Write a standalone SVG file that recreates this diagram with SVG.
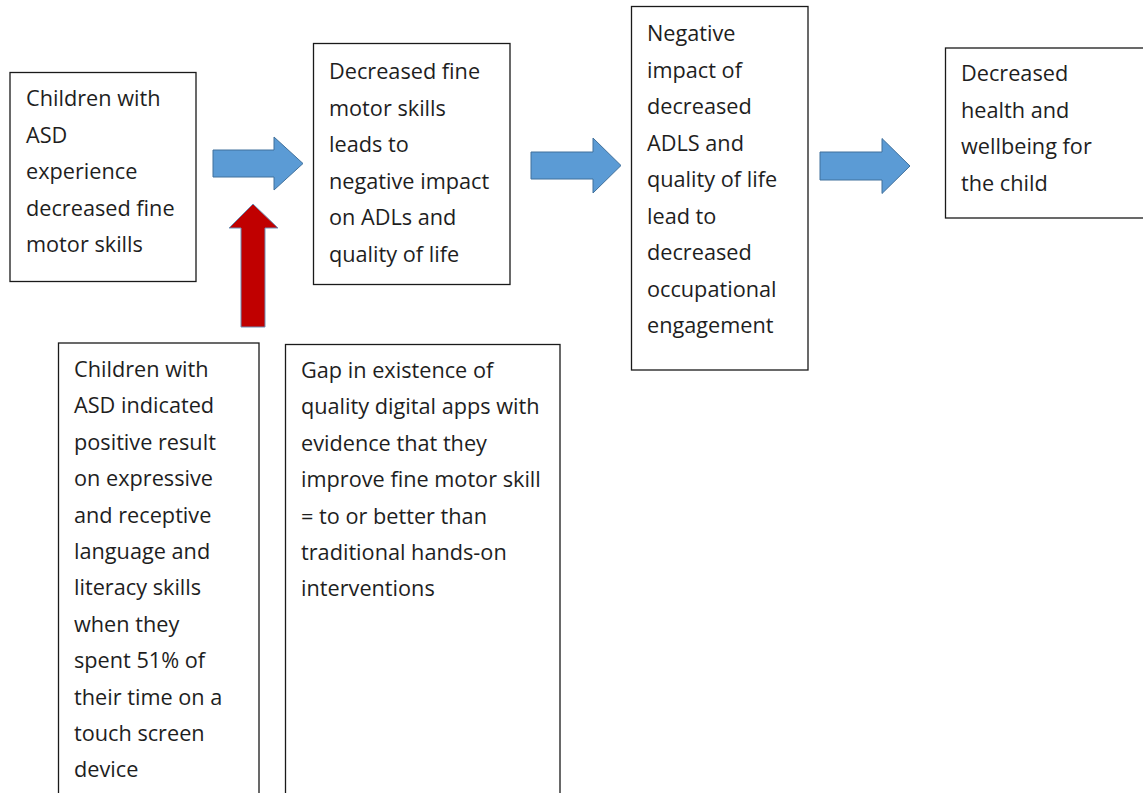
<svg xmlns="http://www.w3.org/2000/svg" width="1143" height="793" viewBox="0 0 1143 793">
  <style>
    .box { fill: #ffffff; stroke: #1a1a1a; stroke-width: 1.3; }
    .label { font-family: "Open Sans", "Liberation Sans", sans-serif; font-size: 21.7px; fill: #1e1e1e; }
    .flow { fill: #5b9bd5; stroke: #41719c; stroke-width: 1; }
    .support { fill: #c00000; stroke: #6f8fb5; stroke-width: 1; }
  </style>
  <rect width="1143" height="793" fill="#ffffff"/>

  <!-- block arrows between the stages -->
  <g id="connectors">
    <path class="flow" d="M213,150 H274 V137 L303,163.5 L274,190 V177 H213 Z"/>
    <path class="flow" d="M531,152 H593 V138 L621,165.5 L593,193 V179 H531 Z"/>
    <path class="flow" d="M820,152 H882 V138.5 L910,166 L882,193.5 V180 H820 Z"/>
    <path class="support" d="M241,327 V228 H229 L253,204 L278,228 H265 V327 Z"/>
  </g>

  <g id="node-asd-motor">
    <rect class="box" x="10" y="72.5" width="186" height="209"/>
    <text class="label" x="26" y="106">
      <tspan x="26">Children with</tspan>
      <tspan x="26" dy="36.5">ASD</tspan>
      <tspan x="26" dy="36.5">experience</tspan>
      <tspan x="26" dy="36.5">decreased fine</tspan>
      <tspan x="26" dy="36.5">motor skills</tspan>
    </text>
  </g>

  <g id="node-adl-impact">
    <rect class="box" x="313.5" y="43.5" width="196.5" height="241"/>
    <text class="label" x="329" y="79">
      <tspan x="329">Decreased fine</tspan>
      <tspan x="329" dy="36.5">motor skills</tspan>
      <tspan x="329" dy="36.5">leads to</tspan>
      <tspan x="329" dy="36.5">negative impact</tspan>
      <tspan x="329" dy="36.5">on ADLs and</tspan>
      <tspan x="329" dy="36.5">quality of life</tspan>
    </text>
  </g>

  <g id="node-occupation">
    <rect class="box" x="631.5" y="6.5" width="176.5" height="363.5"/>
    <text class="label" x="647" y="41">
      <tspan x="647">Negative</tspan>
      <tspan x="647" dy="36.5">impact of</tspan>
      <tspan x="647" dy="36.5">decreased</tspan>
      <tspan x="647" dy="36.5">ADLS and</tspan>
      <tspan x="647" dy="36.5">quality of life</tspan>
      <tspan x="647" dy="36.5">lead to</tspan>
      <tspan x="647" dy="36.5">decreased</tspan>
      <tspan x="647" dy="36.5">occupational</tspan>
      <tspan x="647" dy="36.5">engagement</tspan>
    </text>
  </g>

  <g id="node-wellbeing">
    <rect class="box" x="945.5" y="48" width="210" height="170"/>
    <text class="label" x="961" y="81">
      <tspan x="961">Decreased</tspan>
      <tspan x="961" dy="36.5">health and</tspan>
      <tspan x="961" dy="36.5">wellbeing for</tspan>
      <tspan x="961" dy="36.5">the child</tspan>
    </text>
  </g>

  <g id="node-touchscreen">
    <rect class="box" x="58.5" y="343" width="200.5" height="470"/>
    <text class="label" x="74" y="377">
      <tspan x="74">Children with</tspan>
      <tspan x="74" dy="36.4">ASD indicated</tspan>
      <tspan x="74" dy="36.4">positive result</tspan>
      <tspan x="74" dy="36.4">on expressive</tspan>
      <tspan x="74" dy="36.4">and receptive</tspan>
      <tspan x="74" dy="36.4">language and</tspan>
      <tspan x="74" dy="36.4">literacy skills</tspan>
      <tspan x="74" dy="36.4">when they</tspan>
      <tspan x="74" dy="36.4">spent 51% of</tspan>
      <tspan x="74" dy="36.4">their time on a</tspan>
      <tspan x="74" dy="36.4">touch screen</tspan>
      <tspan x="74" dy="36.4">device</tspan>
    </text>
  </g>

  <g id="node-app-gap">
    <rect class="box" x="285.5" y="344.5" width="274.5" height="470"/>
    <text class="label" x="301" y="378">
      <tspan x="301">Gap in existence of</tspan>
      <tspan x="301" dy="36.4">quality digital apps with</tspan>
      <tspan x="301" dy="36.4">evidence that they</tspan>
      <tspan x="301" dy="36.4">improve fine motor skill</tspan>
      <tspan x="301" dy="36.4">= to or better than</tspan>
      <tspan x="301" dy="36.4">traditional hands-on</tspan>
      <tspan x="301" dy="36.4">interventions</tspan>
    </text>
  </g>
</svg>
